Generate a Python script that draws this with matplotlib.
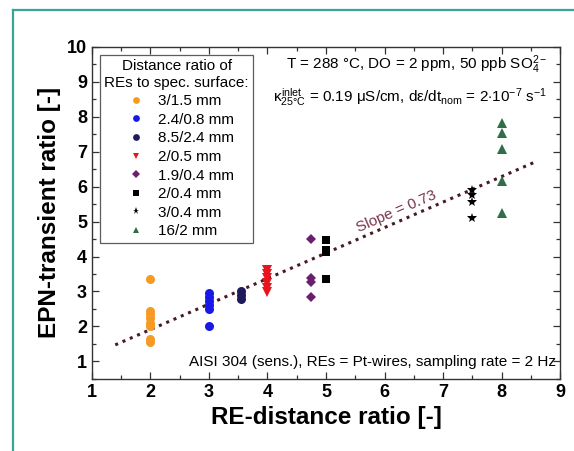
import matplotlib.pyplot as plt
from matplotlib.lines import Line2D
from matplotlib.ticker import MultipleLocator

plt.rcParams['font.family'] = ['Liberation Sans', 'DejaVu Sans']
plt.rcParams['mathtext.fontset'] = 'custom'
plt.rcParams['mathtext.rm'] = 'Liberation Sans'
plt.rcParams['mathtext.it'] = 'Liberation Sans'

# RE distance ratios (x) and EPN-transient ratios (y) per electrode pair
labels = ['3/1.5 mm', '2.4/0.8 mm', '8.5/2.4 mm', '2/0.5 mm',
          '1.9/0.4 mm', '2/0.4 mm', '3/0.4 mm', '16/2 mm']
x_ratio = [2.0, 3.0, 3.54, 4.0, 4.75, 5.0, 7.5, 8.0]
y_values = [
    [3.35, 2.45, 2.35, 2.25, 2.1, 2.0, 1.65, 1.55],
    [2.97, 2.85, 2.72, 2.62, 2.5, 2.0],
    [3.0, 2.91, 2.78],
    [3.62, 3.5, 3.38, 3.25, 3.1, 2.98],
    [4.5, 3.4, 3.27, 2.85],
    [4.48, 4.2, 4.12, 3.35],
    [5.9, 5.75, 5.57, 5.1],
    [7.83, 7.53, 7.07, 6.15, 5.25],
]
markers = ['o', 'o', 'o', 'v', 'D', 's', '*', '^']
colors = ['#f59b25', '#1818e8', '#1e1a5c', '#e8141e', '#6a1f6e',
          '#000000', '#000000', '#2f6e48']
sizes = [6.5, 6.5, 6.5, 6.5, 5, 5.5, 7, 6.5]

# linear fit shown as dotted line
slope = 0.73
intercept = 0.45
fit_x = [1.4, 8.6]

fig = plt.figure(figsize=(5.74, 4.51), dpi=100, facecolor='white')
ax = fig.add_axes([0.160, 0.160, 0.816, 0.736])

fit_y = [slope * v + intercept for v in fit_x]
ax.plot(fit_x, fit_y, linestyle=(0, (1, 1.6)), color='#4a1a22', linewidth=2.2,
        zorder=1)

handles = []
for xv, ys, m, c, s, lab in zip(x_ratio, y_values, markers, colors, sizes, labels):
    ax.plot([xv] * len(ys), ys, linestyle='none', marker=m, color=c,
            markersize=s, markeredgewidth=0, zorder=3)
    handles.append(Line2D([], [], linestyle='none', marker=m, color=c,
                          markersize=s * 0.75, markeredgewidth=0, label=lab))

ax.text(6.2, 5.3, 'Slope = 0.73', rotation=23.5, color='#7a3448',
        fontsize=11, ha='center', va='center', rotation_mode='anchor')

ax.set_xlim(1, 9)
ax.set_ylim(0.5, 10)
ax.xaxis.set_major_locator(MultipleLocator(1))
ax.xaxis.set_minor_locator(MultipleLocator(0.5))
ax.yaxis.set_major_locator(MultipleLocator(1))
ax.yaxis.set_minor_locator(MultipleLocator(0.5))
ax.tick_params(which='both', direction='in', top=True, right=True,
               labelsize=13, width=0.9, color='#333333')
ax.tick_params(which='major', length=5)
ax.tick_params(which='minor', length=3)
for lab in ax.get_xticklabels() + ax.get_yticklabels():
    lab.set_fontweight('bold')
for sp in ax.spines.values():
    sp.set_linewidth(1.0)
    sp.set_color('#333333')

ax.set_xlabel('RE-distance ratio [-]', fontsize=17.5, fontweight='bold', labelpad=4)
ax.set_ylabel('EPN-transient ratio [-]', fontsize=17.5, fontweight='bold', labelpad=4)

leg = ax.legend(handles=handles, loc='upper left',
                bbox_to_anchor=(0.017, 0.976),
                title='Distance ratio of\nREs to spec. surface:',
                fontsize=11, title_fontsize=11, frameon=True, fancybox=False,
                edgecolor='#333333', handletextpad=0.4, handlelength=2.2,
                labelspacing=0.3, borderpad=0.3, borderaxespad=0)
leg.get_frame().set_linewidth(0.9)
leg.get_title().set_multialignment('center')
leg._legend_box.align = 'center'

ax.text(0.972, 0.946,
        'T = 288 \u00b0C, DO = 2 ppm, 50 ppb SO$_4^{2-}$',
        transform=ax.transAxes, ha='right', va='center', fontsize=11)
ax.text(0.972, 0.85,
        r'$\kappa_{25\degree C}^{inlet}$ = 0.19 $\mu$S/cm, d$\epsilon$/dt$_{nom}$ = 2$\cdot$10$^{-7}$ s$^{-1}$',
        transform=ax.transAxes, ha='right', va='center', fontsize=11)
ax.text(0.99, 0.05,
        'AISI 304 (sens.), REs = Pt-wires, sampling rate = 2 Hz',
        transform=ax.transAxes, ha='right', va='center', fontsize=11)

# teal frame along top and left edges of the figure
frame_col = '#3aa596'
fig.add_artist(Line2D([13 / 574, 1.0], [1 - 10 / 451, 1 - 10 / 451],
                      transform=fig.transFigure, color=frame_col, linewidth=1.6))
fig.add_artist(Line2D([13 / 574, 13 / 574], [0.0, 1 - 10 / 451],
                      transform=fig.transFigure, color=frame_col, linewidth=1.6))

fig.savefig('out.png', dpi=100)
